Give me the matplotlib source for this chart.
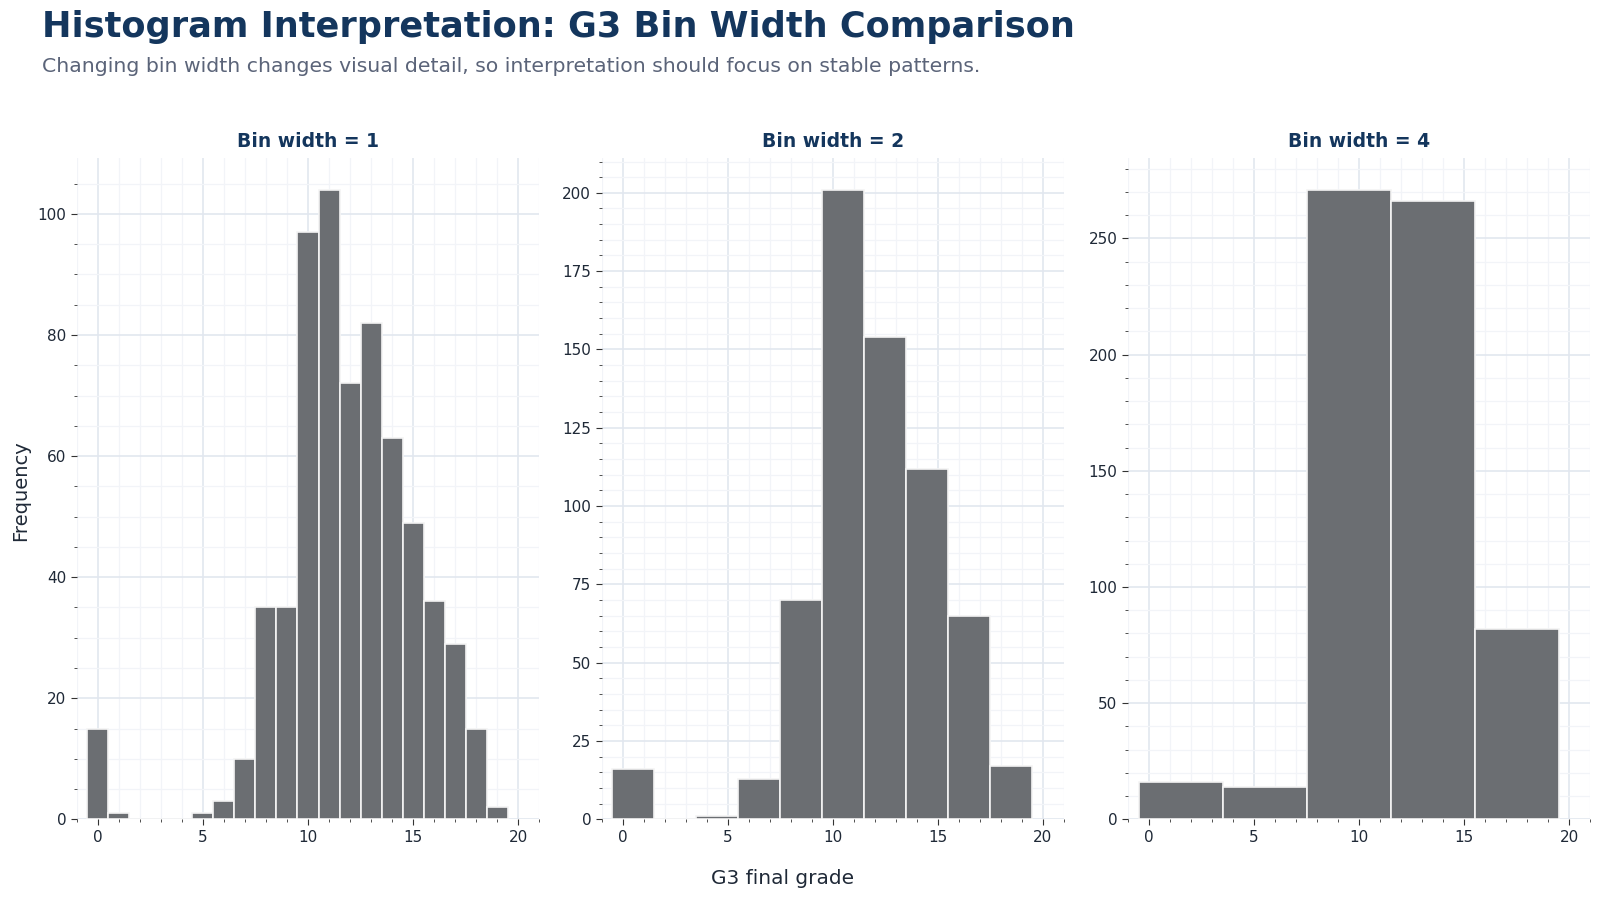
import numpy as np
import matplotlib
matplotlib.use("Agg")
import matplotlib.pyplot as plt
from matplotlib.ticker import AutoMinorLocator, MultipleLocator

grades = list(range(20))
grade_counts = [15, 1, 0, 0, 0, 1, 3, 10, 35, 35, 97, 104, 72, 82, 63, 49, 36, 29, 15, 2]
bin_widths = [1, 2, 4]

title = "Histogram Interpretation: G3 Bin Width Comparison"
subtitle = "Changing bin width changes visual detail, so interpretation should focus on stable patterns."

navy = "#14365d"
bar_col = "#6b6e72"
text_col = "#1f2937"

fig = plt.figure(figsize=(16, 9), dpi=100)
lefts = [0.048, 0.376, 0.705]
axes = [fig.add_axes([l, 0.0896, 0.289, 0.7346]) for l in lefts]

for ax, bw in zip(axes, bin_widths):
    bins = np.arange(-0.5, 20, bw)
    ax.hist(grades, bins=bins, weights=grade_counts, color=bar_col,
            edgecolor="#f4f4f4", linewidth=1.2, zorder=3)
    ax.set_xlim(-1, 21)
    ax.set_title(f"Bin width = {bw}", fontsize=13.5, fontweight="bold", color=navy, pad=8)
    ax.xaxis.set_major_locator(MultipleLocator(5))
    ax.xaxis.set_minor_locator(AutoMinorLocator())
    ax.yaxis.set_minor_locator(AutoMinorLocator())
    ax.grid(which="major", color="#e2e7ef", linewidth=1.2, zorder=0)
    ax.grid(which="minor", color="#f2f4f8", linewidth=0.9, zorder=0)
    for s in ax.spines.values():
        s.set_visible(False)
    ax.tick_params(which="major", length=4, color="#333333", labelsize=11, labelcolor=text_col)
    ax.tick_params(which="minor", length=2, color="#333333")
    ax.set_axisbelow(True)

fig.text(0.026, 0.970, title, fontsize=25.3, fontweight="bold", color=navy, va="center")
fig.text(0.026, 0.926, subtitle, fontsize=14.7, color="#5b6479", va="center")
fig.text(0.489, 0.024, "G3 final grade", fontsize=14.5, color=text_col, ha="center", va="center")
fig.text(0.013, 0.455, "Frequency", fontsize=14, color=text_col, rotation=90, ha="center", va="center")

fig.savefig("out.png", dpi=100, facecolor="white")
